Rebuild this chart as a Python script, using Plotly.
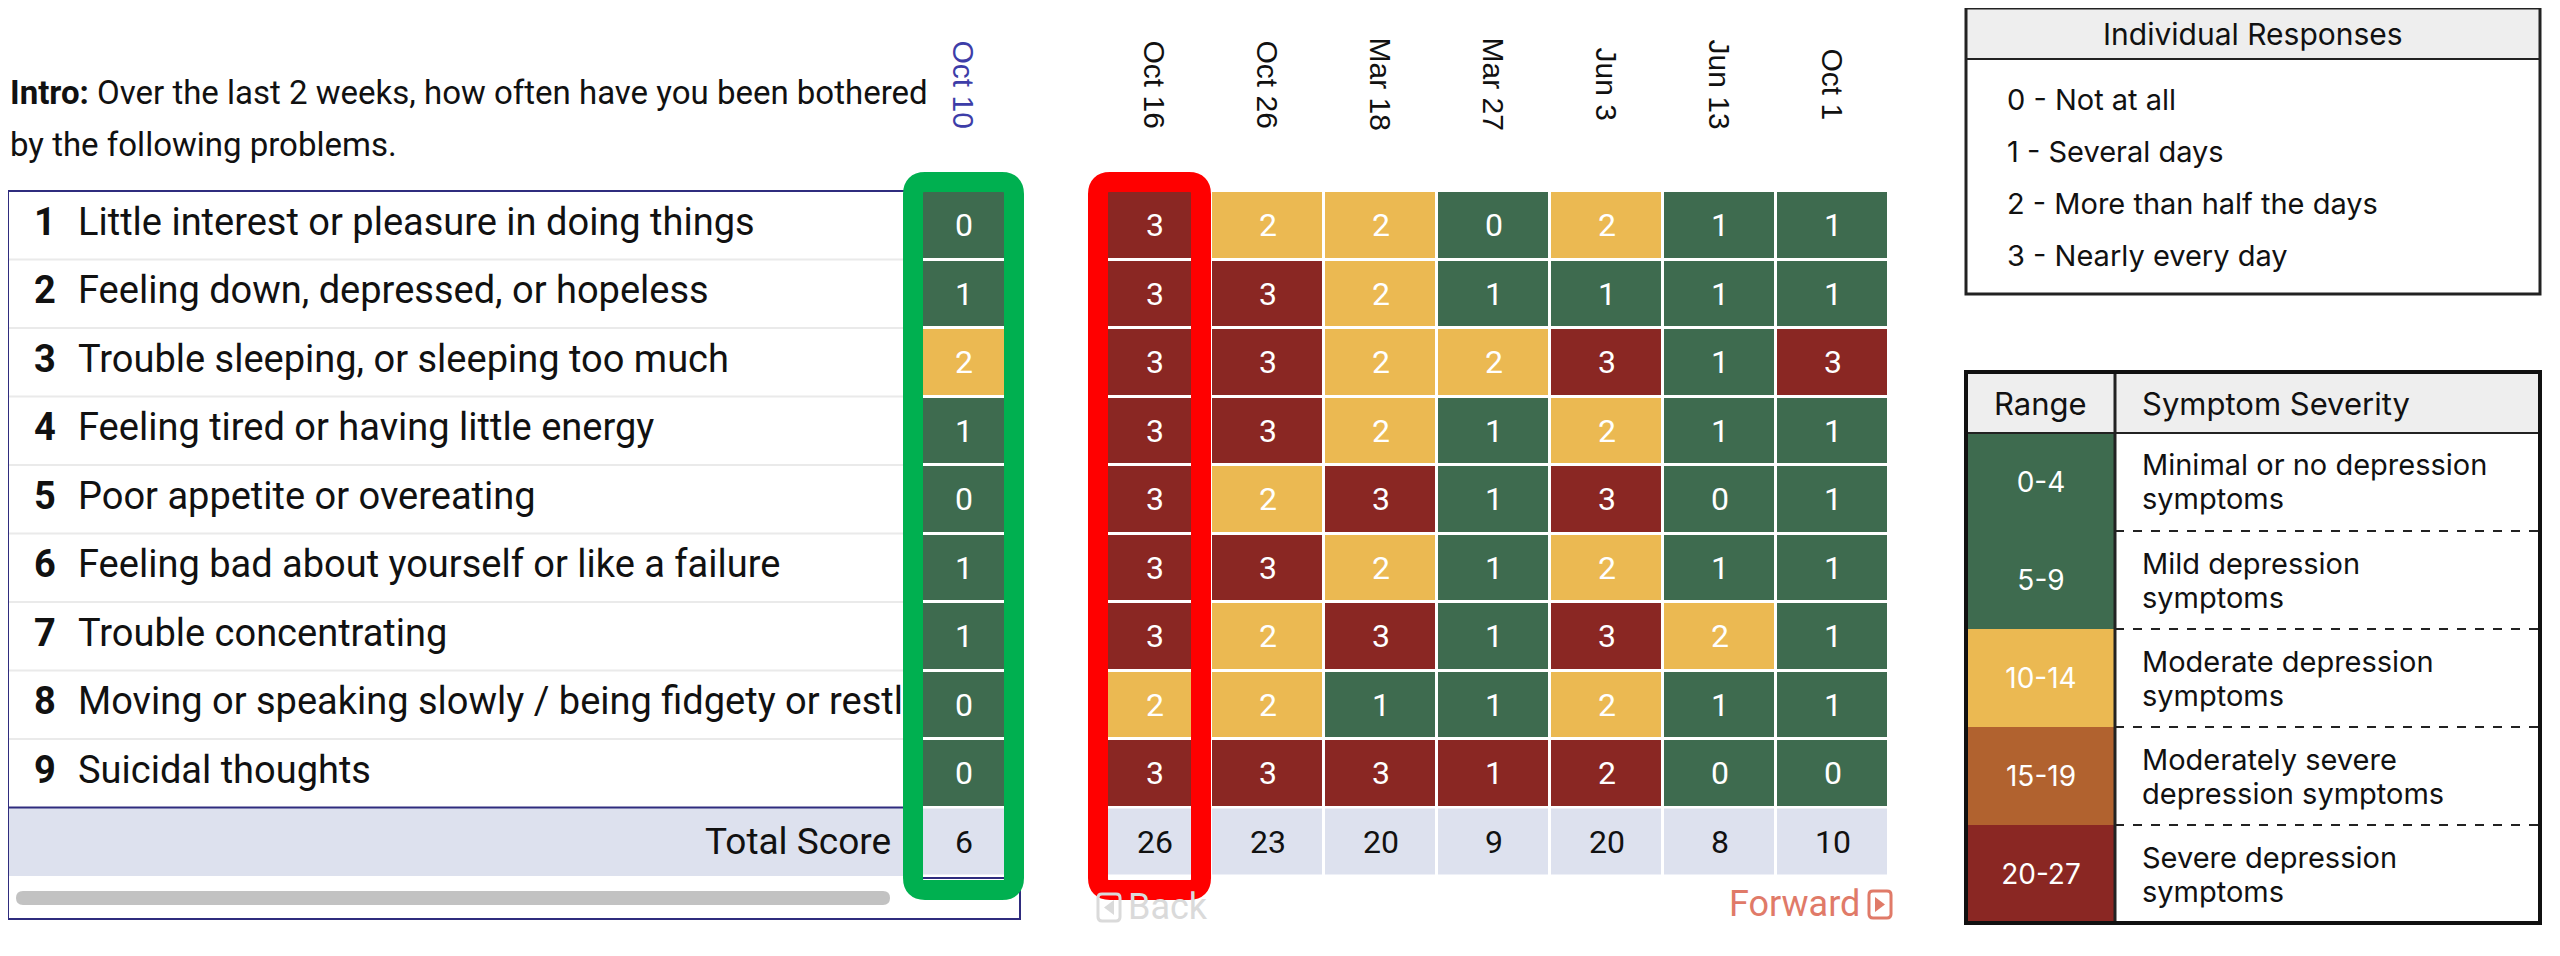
import plotly.graph_objects as go

# ---- data ----
dates = ["Oct 16", "Oct 26", "Mar 18", "Mar 27", "Jun 3", "Jun 13", "Oct 1"]
current_date = "Oct 10"
item_ids = ["1", "2", "3", "4", "5", "6", "7", "8", "9"]
questions = [
    "Little interest or pleasure in doing things",
    "Feeling down, depressed, or hopeless",
    "Trouble sleeping, or sleeping too much",
    "Feeling tired or having little energy",
    "Poor appetite or overeating",
    "Feeling bad about yourself or like a failure",
    "Trouble concentrating",
    "Moving or speaking slowly / being fidgety or restless",
    "Suicidal thoughts",
]
current_scores = [0, 1, 2, 1, 0, 1, 1, 0, 0]
current_total = 6
scores_oct16 = [3, 3, 3, 3, 3, 3, 3, 2, 3]
scores_oct26 = [2, 3, 3, 3, 2, 3, 2, 2, 3]
scores_mar18 = [2, 2, 2, 2, 3, 2, 3, 1, 3]
scores_mar27 = [0, 1, 2, 1, 1, 1, 1, 1, 1]
scores_jun3 = [2, 1, 3, 2, 3, 2, 3, 2, 2]
scores_jun13 = [1, 1, 1, 1, 0, 1, 2, 1, 0]
scores_oct1 = [1, 1, 3, 1, 1, 1, 1, 1, 0]
totals = [26, 23, 20, 9, 20, 8, 10]
response_labels = ["0 - Not at all", "1 - Several days",
                   "2 - More than half the days", "3 - Nearly every day"]
severity_ranges = ["0-4", "5-9", "10-14", "15-19", "20-27"]
severity_levels = [0, 0, 1, 2, 3]
severity_labels = [("Minimal or no depression", "symptoms"), ("Mild depression", "symptoms"),
                   ("Moderate depression", "symptoms"), ("Moderately severe", "depression symptoms"),
                   ("Severe depression", "symptoms")]

history = [scores_oct16, scores_oct26, scores_mar18, scores_mar27,
           scores_jun3, scores_jun13, scores_oct1]

GREEN = "#3E6B4F"
YELLOW = "#EBB952"
ORANGE = "#B1622F"
RED = "#8A2723"
LAV = "#DDE1EE"
NAVY = "#2F2C7E"
FONT = "Roboto"
LFONT = "Inter"

W, H = 2560, 956
DX, DY = 8, 8


def px(x):
    return (x - DX) / W


def py(y):
    return 1 - (y - DY) / H


def level(score, item):
    # item 9 is flagged red for any non-zero answer
    if item == "9" and score > 0:
        return 2
    if score <= 1:
        return 0
    return 1 if score == 2 else 2


def rounded(x0, y0, x1, y1, r):
    pts = [("M", x0 + r, y0), ("L", x1 - r, y0), ("Q", x1, y0, x1, y0 + r),
           ("L", x1, y1 - r), ("Q", x1, y1, x1 - r, y1), ("L", x0 + r, y1),
           ("Q", x0, y1, x0, y1 - r), ("L", x0, y0 + r), ("Q", x0, y0, x0 + r, y0)]
    out = []
    for p in pts:
        c = p[1:]
        s = " ".join(f"{px(c[k]):.5f},{py(c[k+1]):.5f}" for k in range(0, len(c), 2))
        out.append(p[0] + s)
    return " ".join(out) + " Z"


def text_ann(x, y, text, size, color="#111111", family=FONT, xanchor="left", **kw):
    d = dict(x=px(x), y=py(y), xref="paper", yref="paper", text=text, showarrow=False,
             xanchor=xanchor, yanchor="middle", font=dict(size=size, color=color, family=family))
    d.update(kw)
    return d


# layout constants (pixels)
ROW_TOP, ROW_H = 191, 68.5
ROW_END = ROW_TOP + 9 * ROW_H
TOT_END = ROW_END + 68.5
GRID_X0, GRID_X1 = 1098, 1889

cell_scale = [[0, GREEN], [0.5, YELLOW], [1, RED]]
z_hist = [[level(history[j][i], item_ids[i]) for j in range(len(dates))] for i in range(9)]
t_hist = [[history[j][i] for j in range(len(dates))] for i in range(9)]

fig = go.Figure()
fig.add_trace(go.Heatmap(x=dates, y=item_ids, z=z_hist, text=t_hist, texttemplate="%{text}",
                         colorscale=cell_scale, zmin=0, zmax=2, showscale=False, xgap=3, ygap=3,
                         textfont=dict(color="white", size=32, family=FONT), hoverinfo="skip",
                         xaxis="x", yaxis="y"))
fig.add_trace(go.Heatmap(x=dates, y=["Total"], z=[[0] * len(dates)], text=[totals],
                         texttemplate="%{text}", colorscale=[[0, LAV], [1, LAV]], zmin=0, zmax=1,
                         showscale=False, xgap=3, ygap=3, hoverinfo="skip",
                         textfont=dict(color="#111111", size=32, family=FONT),
                         xaxis="x", yaxis="y2"))
fig.add_trace(go.Heatmap(x=[current_date], y=item_ids,
                         z=[[level(s, i)] for s, i in zip(current_scores, item_ids)],
                         text=[[s] for s in current_scores], texttemplate="%{text}",
                         colorscale=cell_scale, zmin=0, zmax=2, showscale=False, ygap=3,
                         textfont=dict(color="white", size=32, family=FONT), hoverinfo="skip",
                         xaxis="x2", yaxis="y"))
fig.add_trace(go.Heatmap(x=[current_date], y=["Total"], z=[[0]], text=[[current_total]],
                         texttemplate="%{text}", colorscale=[[0, LAV], [1, LAV]], zmin=0, zmax=1,
                         showscale=False, ygap=3, hoverinfo="skip",
                         textfont=dict(color="#111111", size=32, family=FONT),
                         xaxis="x2", yaxis="y2"))
# question labels, clipped at the current column like the scrolling table
fig.add_trace(go.Scatter(x=[26] * 9, y=item_ids, mode="text", text=[f"<b>{i}</b>" for i in item_ids],
                         textposition="middle right", cliponaxis=True, hoverinfo="skip",
                         textfont=dict(size=38, color="#111111", family=FONT),
                         xaxis="x3", yaxis="y"))
fig.add_trace(go.Scatter(x=[70] * 9, y=item_ids, mode="text", text=questions,
                         textposition="middle right", cliponaxis=True, hoverinfo="skip",
                         textfont=dict(size=38, color="#111111", family=FONT),
                         xaxis="x3", yaxis="y"))
# severity legend colour column
fig.add_trace(go.Heatmap(x=["Range"], y=severity_ranges, z=[[v] for v in severity_levels],
                         text=[[r] for r in severity_ranges], texttemplate="%{text}",
                         colorscale=[[0, GREEN], [1 / 3, YELLOW], [2 / 3, ORANGE], [1, RED]],
                         zmin=0, zmax=3, showscale=False, hoverinfo="skip",
                         textfont=dict(color="white", size=28, family=LFONT),
                         xaxis="x4", yaxis="y3"))

hidden = dict(visible=False, fixedrange=True)
fig.update_layout(
    width=W, height=H, margin=dict(l=0, r=0, t=0, b=0),
    paper_bgcolor="white", plot_bgcolor="rgba(0,0,0,0)", showlegend=False,
    xaxis=dict(domain=[px(GRID_X0), px(GRID_X1)], anchor="y", type="category",
               categoryarray=dates, range=[-0.5, 6.5], **hidden),
    yaxis=dict(domain=[py(ROW_END), py(ROW_TOP)], anchor="x", type="category",
               categoryarray=item_ids, range=[8.5, -0.5], **hidden),
    yaxis2=dict(domain=[py(TOT_END), py(ROW_END)], anchor="x", type="category",
                range=[-0.5, 0.5], **hidden),
    xaxis2=dict(domain=[px(919), px(1008)], anchor="y", type="category",
                range=[-0.5, 0.5], **hidden),
    xaxis3=dict(domain=[px(8), px(903)], anchor="y", range=[0, 895], **hidden),
    xaxis4=dict(domain=[px(1966), px(2115)], anchor="y3", type="category",
                range=[-0.5, 0.5], **hidden),
    yaxis3=dict(domain=[py(923), py(433)], anchor="x4", type="category",
                categoryarray=severity_ranges, range=[4.5, -0.5], **hidden),
)

shapes = []
# left table: total row background, separators, border, scrollbar
shapes.append(dict(type="rect", xref="paper", yref="paper", x0=px(8), x1=px(903),
                   y0=py(TOT_END), y1=py(ROW_END), fillcolor=LAV, line_width=0, layer="below"))
for k in range(8):
    shapes.append(dict(type="line", xref="paper", yref="y", x0=px(8), x1=px(903),
                       y0=k + 0.5, y1=k + 0.5, line=dict(color="#EAEAEA", width=2)))
shapes.append(dict(type="line", xref="paper", yref="paper", x0=px(8), x1=px(903),
                   y0=py(ROW_END), y1=py(ROW_END), line=dict(color=NAVY, width=2)))
shapes.append(dict(type="line", xref="paper", yref="paper", x0=px(919), x1=px(1008),
                   y0=py(TOT_END + 2), y1=py(TOT_END + 2), line=dict(color=NAVY, width=2)))
shapes.append(dict(type="rect", xref="paper", yref="paper", x0=px(8), x1=px(1020),
                   y0=py(919), y1=py(ROW_TOP), line=dict(color=NAVY, width=2)))
shapes.append(dict(type="path", xref="paper", yref="paper", path=rounded(16, 891, 890, 905, 7),
                   fillcolor="#C2C2C2", line_width=0))
# highlight frames
shapes.append(dict(type="path", xref="paper", yref="paper", path=rounded(913, 182, 1014, 890, 12),
                   line=dict(color="#00B050", width=20)))
shapes.append(dict(type="path", xref="paper", yref="paper", path=rounded(1098, 182, 1201, 890, 12),
                   line=dict(color="#FF0000", width=20)))
# forward / back icons
shapes.append(dict(type="path", xref="paper", yref="paper", path=rounded(1098, 894, 1120, 921, 4),
                   line=dict(color="#DADADA", width=3)))
shapes.append(dict(type="path", xref="paper", yref="paper",
                   path=f"M{px(1114)},{py(900)} L{px(1104)},{py(907.5)} L{px(1114)},{py(915)} Z",
                   fillcolor="#DADADA", line_width=0))
shapes.append(dict(type="path", xref="paper", yref="paper", path=rounded(1869, 891, 1891, 918, 4),
                   line=dict(color="#E07A68", width=3)))
shapes.append(dict(type="path", xref="paper", yref="paper",
                   path=f"M{px(1875)},{py(897)} L{px(1885)},{py(904.5)} L{px(1875)},{py(912)} Z",
                   fillcolor="#E07A68", line_width=0))
# individual responses legend
shapes.append(dict(type="rect", xref="paper", yref="paper", x0=px(1966), x1=px(2540),
                   y0=py(59), y1=py(8), fillcolor="#EEEEEE", line_width=0, layer="below"))
shapes.append(dict(type="line", xref="paper", yref="paper", x0=px(1966), x1=px(2540),
                   y0=py(59), y1=py(59), line=dict(color="#222222", width=2)))
shapes.append(dict(type="rect", xref="paper", yref="paper", x0=px(1966), x1=px(2540),
                   y0=py(294), y1=py(8), line=dict(color="#222222", width=3)))
# severity legend
shapes.append(dict(type="rect", xref="paper", yref="paper", x0=px(1966), x1=px(2540),
                   y0=py(433), y1=py(372), fillcolor="#EEEEEE", line_width=0, layer="below"))
for k in range(5):
    shapes.append(dict(type="line", xref="paper", yref="y3", x0=px(2115), x1=px(2540),
                       y0=k + 0.5, y1=k + 0.5, line=dict(color="#222222", width=2, dash="dash")))
shapes.append(dict(type="line", xref="paper", yref="paper", x0=px(1966), x1=px(2540),
                   y0=py(433), y1=py(433), line=dict(color="#222222", width=2)))
shapes.append(dict(type="line", xref="paper", yref="paper", x0=px(2115), x1=px(2115),
                   y0=py(923), y1=py(372), line=dict(color="#222222", width=3)))
shapes.append(dict(type="rect", xref="paper", yref="paper", x0=px(1966), x1=px(2540),
                   y0=py(923), y1=py(372), line=dict(color="#111111", width=4)))
fig.update_layout(shapes=shapes)

ann = []
ann.append(text_ann(8, 93, "<b>Intro:</b> Over the last 2 weeks, how often have you been bothered", 33))
ann.append(text_ann(8, 144, "by the following problems.", 33))
for d in dates:
    ann.append(dict(x=d, xref="x", y=py(84), yref="paper", text=d, textangle=90, showarrow=False,
                    xanchor="center", yanchor="middle",
                    font=dict(size=30, color="#111111", family="Liberation Sans")))
ann.append(dict(x=current_date, xref="x2", y=py(84), yref="paper", text=current_date, textangle=90,
                showarrow=False, xanchor="center", yanchor="middle",
                font=dict(size=30, color="#3D3DA8", family="Liberation Sans")))
ann.append(dict(x=px(893), xref="paper", y="Total", yref="y2", xanchor="right", yanchor="middle",
                showarrow=False, text="Total Score",
                font=dict(size=37, color="#111111", family=FONT)))
ann.append(text_ann(1126, 907, "Back", 36, color="#DADADA"))
ann.append(text_ann(1862, 904, "Forward", 36, color="#E07A68", xanchor="right"))
ann.append(text_ann(2253, 34, "Individual Responses", 30, family=LFONT, xanchor="center"))
for k, lab in enumerate(response_labels):
    ann.append(text_ann(2005, 100 + 51.7 * k, lab, 29, family=LFONT))
ann.append(text_ann(2040, 403, "Range", 31, family=LFONT, xanchor="center"))
ann.append(text_ann(2140, 403, "Symptom Severity", 31, family=LFONT))
for r, (l1, l2) in zip(severity_ranges, severity_labels):
    for txt, shift in ((l1, 17), (l2, -17)):
        ann.append(dict(x=px(2140), xref="paper", y=r, yref="y3", xanchor="left", yanchor="middle",
                        yshift=shift, showarrow=False, text=txt,
                        font=dict(size=29, color="#111111", family=LFONT)))
fig.update_layout(annotations=ann)

fig.write_html("out.html")
